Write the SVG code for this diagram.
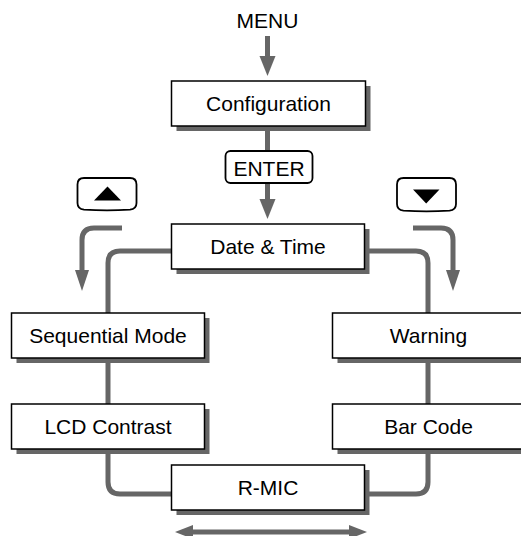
<svg xmlns="http://www.w3.org/2000/svg" width="521" height="536" viewBox="0 0 521 536">
<style>
.box{fill:#fff;stroke:#000;stroke-width:1.5}
.sh{fill:#666}
.t{font-family:"Liberation Sans",Arial,sans-serif;font-size:21px;fill:#000;text-anchor:middle}
.ln{fill:none;stroke:#666;stroke-width:5}
.ah{fill:#666}
.btn{fill:#fff;stroke:#000;stroke-width:1.8}
</style>
<rect width="521" height="536" fill="#fff"/>
<g id="connectors">
<line class="ln" x1="267.5" y1="36" x2="267.5" y2="58"/>
<polygon class="ah" points="259.5,56 275.5,56 267.5,76"/>
<line class="ln" x1="267.5" y1="126" x2="267.5" y2="151"/>
<line class="ln" x1="267.5" y1="183" x2="267.5" y2="201"/>
<polygon class="ah" points="259.5,199 275.5,199 267.5,219"/>
<path class="ln" d="M171,251 H120 Q108,251 108,263 V313"/>
<path class="ln" d="M365,251 H416 Q428,251 428,263 V313"/>
<line class="ln" x1="108" y1="358" x2="108" y2="404"/>
<line class="ln" x1="428" y1="358" x2="428" y2="404"/>
<path class="ln" d="M108,449 V482 Q108,494 120,494 H172"/>
<path class="ln" d="M428,449 V482 Q428,494 416,494 H365"/>
<path class="ln" d="M122,228 H94 Q82,228 82,240 V272"/>
<polygon class="ah" points="75,270 89,270 82,291"/>
<path class="ln" d="M413,228 H441 Q453,228 453,240 V272"/>
<polygon class="ah" points="446,270 460,270 453,291"/>
<line class="ln" x1="190" y1="532" x2="352" y2="532"/>
<polygon class="ah" points="175,532 193,525 193,539"/>
<polygon class="ah" points="367,532 349,525 349,539"/>
</g>
<g id="menu"><text class="t" x="267.5" y="28">MENU</text></g>
<g id="configuration">
<rect class="sh" x="176.5" y="86" width="194" height="45"/>
<rect class="box" x="171.5" y="81" width="194" height="45"/>
<text class="t" x="268.5" y="110.5">Configuration</text>
</g>
<g id="enter">
<rect x="225.5" y="151" width="87" height="32" rx="5" fill="#fff" stroke="#000" stroke-width="1.8"/>
<text class="t" x="269" y="175.5">ENTER</text>
</g>
<g id="up-key">
<path class="btn" d="M84,178 H130 Q136.5,178 136.5,184.5 V203 Q136.5,209 130,209.6 Q107,211.2 84,209.6 Q77.5,209 77.5,203 V184.5 Q77.5,178 84,178 Z"/>
<polygon points="107.5,186.5 121,200.5 94,200.5" fill="#000"/>
</g>
<g id="down-key">
<path class="btn" d="M403.5,178 H449.5 Q456,178 456,184.5 V204 Q456,210 449.5,210.6 Q426.5,212.2 403.5,210.6 Q397,210 397,204 V184.5 Q397,178 403.5,178 Z"/>
<polygon points="413,189.5 439.5,189.5 426.2,203.5" fill="#000"/>
</g>
<g id="date-time">
<rect class="sh" x="176.5" y="229" width="193" height="45"/>
<rect class="box" x="171.5" y="224" width="193" height="45"/>
<text class="t" x="268" y="253.5">Date &amp; Time</text>
</g>
<g id="sequential-mode">
<rect class="sh" x="16.5" y="318" width="193" height="45"/>
<rect class="box" x="11.5" y="313" width="193" height="45"/>
<text class="t" x="108" y="342.5">Sequential Mode</text>
</g>
<g id="warning">
<rect class="sh" x="337.5" y="318" width="193" height="45"/>
<rect class="box" x="332.5" y="313" width="193" height="45"/>
<text class="t" x="428.5" y="342.5">Warning</text>
</g>
<g id="lcd-contrast">
<rect class="sh" x="16.5" y="409" width="193" height="45"/>
<rect class="box" x="11.5" y="404" width="193" height="45"/>
<text class="t" x="108" y="433.5">LCD Contrast</text>
</g>
<g id="bar-code">
<rect class="sh" x="337.5" y="409" width="193" height="45"/>
<rect class="box" x="332.5" y="404" width="193" height="45"/>
<text class="t" x="428.5" y="433.5">Bar Code</text>
</g>
<g id="r-mic">
<rect class="sh" x="176.5" y="470" width="193" height="45"/>
<rect class="box" x="171.5" y="465" width="193" height="45"/>
<text class="t" x="268" y="494.5">R-MIC</text>
</g>
</svg>
